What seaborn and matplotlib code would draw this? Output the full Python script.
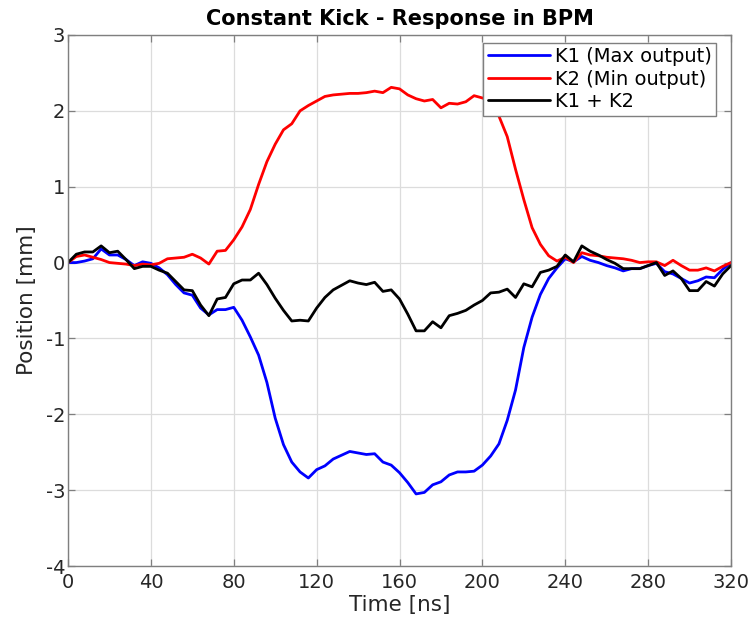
import numpy as np
import pandas as pd
import matplotlib
matplotlib.use("Agg")
import matplotlib.pyplot as plt
import seaborn as sns

time_ns = list(range(0, 321, 4))

k1_max = [0.00, 0.00, 0.02, 0.05, 0.18, 0.10, 0.10, 0.04, -0.04, 0.01,
          -0.01, -0.07, -0.16, -0.29, -0.40, -0.43, -0.60, -0.69, -0.62, -0.62,
          -0.59, -0.76, -0.98, -1.22, -1.58, -2.05, -2.40, -2.63, -2.76, -2.84,
          -2.73, -2.68, -2.59, -2.54, -2.49, -2.51, -2.53, -2.52, -2.63, -2.67,
          -2.77, -2.90, -3.05, -3.03, -2.93, -2.89, -2.80, -2.76, -2.76, -2.75,
          -2.67, -2.55, -2.39, -2.08, -1.68, -1.12, -0.72, -0.42, -0.21, -0.07,
          0.05, 0.01, 0.08, 0.03, 0.00, -0.04, -0.07, -0.11, -0.08, -0.08,
          -0.04, -0.01, -0.12, -0.15, -0.21, -0.27, -0.24, -0.19, -0.20, -0.09,
          0.00]

k2_min = [0.00, 0.08, 0.10, 0.07, 0.04, 0.00, -0.01, -0.02, -0.04, -0.02,
          -0.03, -0.01, 0.05, 0.06, 0.07, 0.11, 0.06, -0.02, 0.15, 0.16,
          0.30, 0.47, 0.70, 1.03, 1.33, 1.56, 1.75, 1.83, 2.00, 2.07,
          2.13, 2.19, 2.21, 2.22, 2.23, 2.23, 2.24, 2.26, 2.24, 2.31,
          2.29, 2.21, 2.16, 2.13, 2.15, 2.04, 2.10, 2.09, 2.12, 2.20,
          2.17, 2.13, 1.93, 1.66, 1.23, 0.83, 0.46, 0.24, 0.09, 0.02,
          0.07, 0.00, 0.13, 0.10, 0.09, 0.07, 0.06, 0.05, 0.03, 0.00,
          0.01, 0.01, -0.04, 0.03, -0.04, -0.10, -0.10, -0.07, -0.11, -0.05,
          0.00]

k1_plus_k2 = [0.00, 0.11, 0.14, 0.14, 0.22, 0.13, 0.15, 0.04, -0.08, -0.05,
              -0.05, -0.10, -0.14, -0.25, -0.36, -0.37, -0.56, -0.70, -0.48, -0.46,
              -0.28, -0.23, -0.23, -0.14, -0.29, -0.47, -0.63, -0.77, -0.76, -0.77,
              -0.60, -0.46, -0.36, -0.30, -0.24, -0.27, -0.29, -0.26, -0.38, -0.36,
              -0.48, -0.68, -0.90, -0.90, -0.78, -0.86, -0.70, -0.67, -0.63, -0.56,
              -0.50, -0.40, -0.39, -0.35, -0.46, -0.28, -0.32, -0.13, -0.10, -0.05,
              0.10, 0.01, 0.22, 0.15, 0.10, 0.04, -0.01, -0.08, -0.08, -0.08,
              -0.04, 0.00, -0.17, -0.11, -0.21, -0.37, -0.37, -0.25, -0.31, -0.15,
              -0.04]

series_names = ["K1 (Max output)", "K2 (Min output)", "K1 + K2"]
series_colors = ["#0000ff", "#ff0000", "#000000"]
x_ticks = [0, 40, 80, 120, 160, 200, 240, 280, 320]
y_ticks = [-4, -3, -2, -1, 0, 1, 2, 3]

df = pd.concat([
    pd.DataFrame({"Time": time_ns, "Position": vals, "Series": name})
    for name, vals in zip(series_names, [k1_max, k2_min, k1_plus_k2])
], ignore_index=True)

sns.set_theme(style="white")
plt.rcParams['font.family'] = ['DejaVu Sans']

fig = plt.figure(figsize=(7.48, 6.17), dpi=100)
ax = fig.add_axes([68 / 748, 1 - 566 / 617, (731 - 68) / 748, (566 - 35) / 617])

sns.lineplot(data=df, x="Time", y="Position", hue="Series",
             palette=dict(zip(series_names, series_colors)),
             hue_order=series_names, linewidth=2.0, ax=ax, sort=False,
             estimator=None)

ax.set_xlim(0, 320)
ax.set_ylim(-4, 3)
ax.set_xticks(x_ticks)
ax.set_yticks(y_ticks)
ax.set_xticklabels([str(v) for v in x_ticks])
ax.set_yticklabels([str(v) for v in y_ticks])

text_col = "#262626"
ax.grid(True, color="#dcdcdc", linewidth=0.9)
ax.set_axisbelow(True)
for sp in ax.spines.values():
    sp.set_visible(True)
    sp.set_color("#7f7f7f")
    sp.set_linewidth(1.0)
ax.tick_params(axis="both", which="both", direction="in", length=5,
               width=0.9, color="#7f7f7f", labelsize=14, labelcolor=text_col,
               top=True, right=True, bottom=True, left=True)
ax.tick_params(axis="x", pad=5)
ax.tick_params(axis="y", pad=2)

ax.set_xlabel("Time [ns]", fontsize=15.5, color=text_col, labelpad=2)
ax.set_ylabel("Position [mm]", fontsize=15.5, color=text_col, labelpad=6)
ax.set_title("Constant Kick - Response in BPM", fontsize=15,
             fontweight="bold", color="#000000", pad=7)

leg = ax.legend(loc="upper right", bbox_to_anchor=((716 - 68) / 663, (566 - 43) / 531),
                fontsize=14, frameon=True, fancybox=False, framealpha=1.0,
                handlelength=3.2, handletextpad=0.25, borderpad=0.22,
                labelspacing=0.18, borderaxespad=0.0, title=None)
leg.get_frame().set_edgecolor("#7f7f7f")
leg.get_frame().set_linewidth(1.0)
for line in leg.get_lines():
    line.set_linewidth(2.0)
for t in leg.get_texts():
    t.set_color("#000000")

fig.savefig("out.png", dpi=100)
